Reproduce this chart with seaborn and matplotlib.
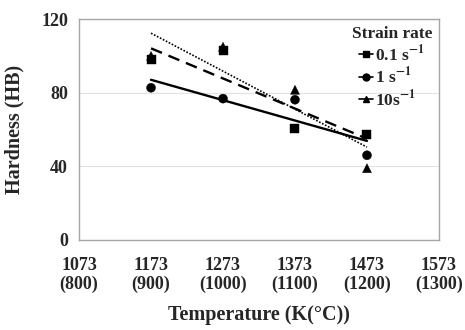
import matplotlib
matplotlib.use("Agg")
import matplotlib.pyplot as plt
from matplotlib.lines import Line2D
import numpy as np
import pandas as pd
import seaborn as sns

# Deformation temperatures (K) and measured hardness at each strain rate
temperature_k = [1173, 1273, 1373, 1473]
hardness_01 = [97.8, 102.7, 60.5, 57.3]
hardness_1 = [82.7, 76.8, 76.2, 46.0]
hardness_10 = [100.0, 105.0, 81.6, 39.0]

series_names = ["0.1 s$^{-1}$", "1 s$^{-1}$", "10s$^{-1}$"]
series_values = [hardness_01, hardness_1, hardness_10]

tick_k = [1073, 1173, 1273, 1373, 1473, 1573]
tick_c = [800, 900, 1000, 1100, 1200, 1300]
tick_labels = [f"{k}\n({c})" for k, c in zip(tick_k, tick_c)]

rows = []
for name, vals in zip(series_names, series_values):
    for t, h in zip(temperature_k, vals):
        rows.append({"T": t, "HB": h, "rate": name})
df = pd.DataFrame(rows)

sns.set_style("white")
plt.rcParams["font.family"] = ["Liberation Serif", "DejaVu Serif"]
plt.rcParams["font.weight"] = "bold"
plt.rcParams["mathtext.fontset"] = "stix"
plt.rcParams["mathtext.default"] = "bf"

fig = plt.figure(figsize=(4.65, 3.3), dpi=100)
ax = fig.add_axes([0.170, 0.273, 0.774, 0.669])

markers = {series_names[0]: "s", series_names[1]: "o", series_names[2]: "^"}
line_styles = {series_names[0]: (0, (5, 3)), series_names[1]: "-", series_names[2]: (0, (1, 1))}
line_widths = {series_names[0]: 1.7, series_names[1]: 1.7, series_names[2]: 1.2}

# Linear trend line for each strain rate
for name in series_names:
    sub = df[df["rate"] == name]
    sns.regplot(data=sub, x="T", y="HB", ax=ax, ci=None, scatter=False,
                truncate=True,
                line_kws=dict(color="black", linestyle=line_styles[name],
                              linewidth=line_widths[name]))

sns.scatterplot(data=df, x="T", y="HB", style="rate", markers=markers,
                color="black", s=42, edgecolor="black", linewidth=0.3,
                ax=ax, legend=False, zorder=3)

ax.set_xlim(1073, 1573)
ax.set_ylim(0, 120)
ax.set_xticks(tick_k)
ax.set_xticklabels(tick_labels, fontsize=13, fontweight="bold", linespacing=1.1)
ax.set_yticks([0, 40, 80, 120])
ax.set_yticklabels(["0", "40", "80", "120"], fontsize=13, fontweight="bold")
ax.yaxis.grid(True, color="#e2e2e2", linewidth=0.8)
ax.set_axisbelow(True)

for s in ax.spines.values():
    s.set_color("#a6a6a6")
    s.set_linewidth(1.0)
ax.tick_params(axis="x", direction="inout", length=7, color="#a6a6a6", pad=9)
ax.tick_params(axis="y", direction="out", length=5, color="#a6a6a6", pad=3)

ax.set_xlabel("Temperature (K(°C))", fontsize=14.5, fontweight="bold", labelpad=9)
ax.set_ylabel("Hardness (HB)", fontsize=14.5, fontweight="bold", labelpad=12)

handles = [Line2D([0], [0], color="black", marker=markers[n], markersize=5,
                  linewidth=1.2, linestyle="-") for n in series_names]
leg = ax.legend(handles, series_names, title="Strain rate", loc="upper right",
                frameon=False, fontsize=12.5, title_fontsize=12.5,
                handlelength=0.8, handletextpad=0.15, labelspacing=0.1,
                borderaxespad=0.1, borderpad=0.3, bbox_to_anchor=(1.0, 1.0))
leg.get_title().set_fontweight("bold")
for t in leg.get_texts():
    t.set_fontweight("bold")

fig.savefig("out.png", dpi=100)
